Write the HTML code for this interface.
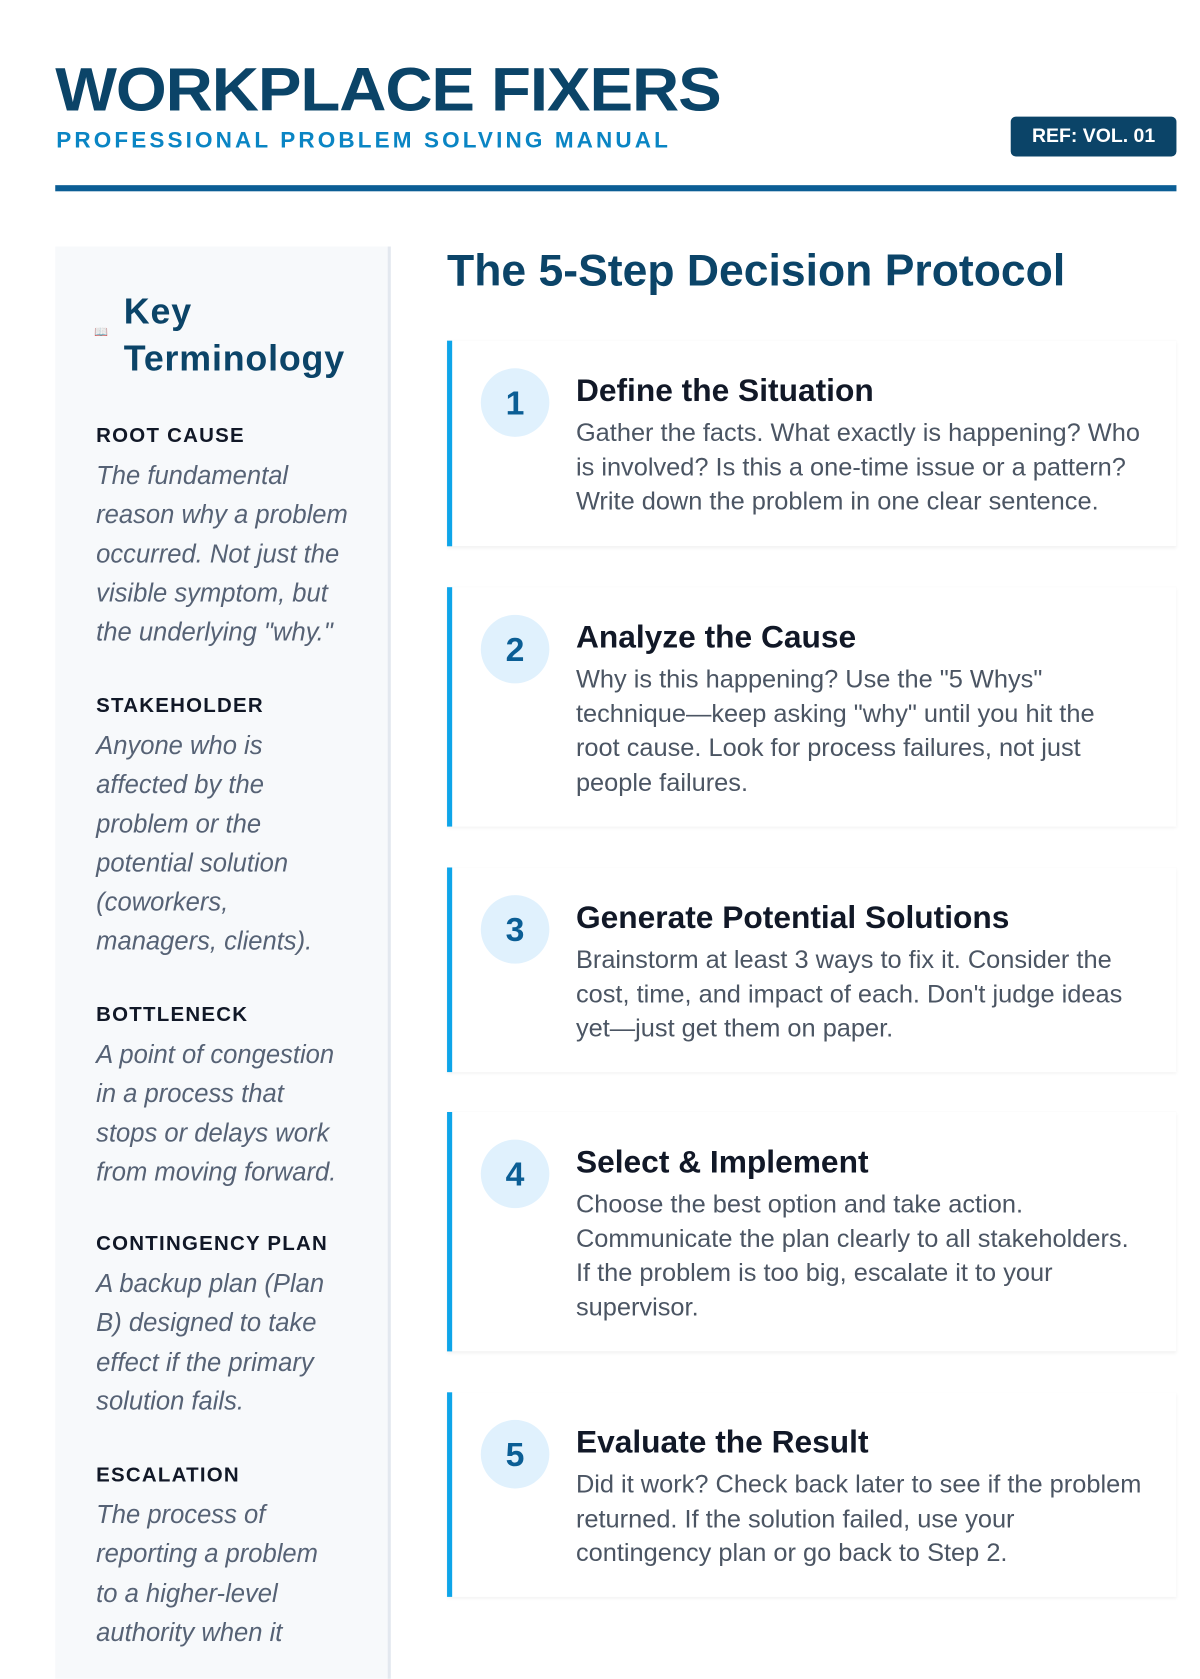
<!DOCTYPE html>
<html><head><meta charset="utf-8"><style>
*{margin:0;padding:0;box-sizing:border-box}
html,body{width:1200px;height:1600px;overflow:hidden;background:#fff;font-family:"Liberation Sans",sans-serif}
#w{position:absolute;left:0;top:0;width:1200px;height:1600px;transform:scale(1.023);transform-origin:0 0}
.a{position:absolute;white-space:nowrap}
.title{left:54px;top:56px;font-size:60px;font-weight:900;color:#0b4468;letter-spacing:-1px;line-height:64px;transform:scaleX(1.065);transform-origin:left}
.sub{left:55px;top:124px;font-size:22px;font-weight:bold;color:#0a85c4;letter-spacing:3.05px;line-height:26px}
.badge{left:988px;top:114px;width:162px;height:39px;background:#0b4468;border-radius:5px;color:#fff;font-weight:bold;font-size:19px;line-height:39px;text-align:center}
.rule{left:54px;top:181px;width:1096px;height:6px;background:#0b5e95}
.side{left:54px;top:241px;width:328px;height:1400px;background:#f7f9fb;border-right:3px solid #e3e8ef}
.kt{left:121px;top:282px;font-size:35px;font-weight:bold;color:#0b4468;line-height:46px;letter-spacing:0.8px}
.lab{left:94px;font-size:20px;font-weight:bold;color:#111827;letter-spacing:1.2px;line-height:39px}
.def{left:94px;font-size:25px;font-style:italic;color:#566275;line-height:38.3px}
.h2{left:437px;top:241px;font-size:43.5px;font-weight:bold;color:#0b4468;line-height:48px}
.card{left:437px;width:713px;background:#fff;border-left:5px solid #0ea5e9;box-shadow:0 2px 3px rgba(0,0,0,0.05),0 0 1px rgba(0,0,0,0.06)}
.circ{position:absolute;left:28px;top:27px;width:67px;height:67px;border-radius:50%;background:#e0f1fd;color:#0b5e95;font-weight:bold;font-size:33px;line-height:67px;text-align:center}
.ct{position:absolute;left:121px;top:33px;font-size:31px;font-weight:bold;color:#111827;line-height:32px;white-space:nowrap}
.cb{position:absolute;left:121px;top:74px;font-size:24.8px;color:#4b5563;line-height:33.5px;white-space:nowrap}
</style></head><body><div id="w">
<div class="a title">WORKPLACE FIXERS</div>
<div class="a sub">PROFESSIONAL PROBLEM SOLVING MANUAL</div>
<div class="a badge">REF: VOL. 01</div>
<div class="a rule"></div>

<div class="a side"></div>
<div class="a" style="left:92px;top:318px;font-size:11px;color:#0a85c4">&#128214;</div>
<div class="a kt">Key<br>Terminology</div>

<div class="a lab" style="top:407px">ROOT CAUSE</div>
<div class="a def" style="top:446px">The fundamental<br>reason why a problem<br>occurred. Not just the<br>visible symptom, but<br>the underlying "why."</div>

<div class="a lab" style="top:671px">STAKEHOLDER</div>
<div class="a def" style="top:710px">Anyone who is<br>affected by the<br>problem or the<br>potential solution<br>(coworkers,<br>managers, clients).</div>

<div class="a lab" style="top:973px">BOTTLENECK</div>
<div class="a def" style="top:1012px">A point of congestion<br>in a process that<br>stops or delays work<br>from moving forward.</div>

<div class="a lab" style="top:1197px">CONTINGENCY PLAN</div>
<div class="a def" style="top:1236px">A backup plan (Plan<br>B) designed to take<br>effect if the primary<br>solution fails.</div>

<div class="a lab" style="top:1423px">ESCALATION</div>
<div class="a def" style="top:1462px">The process of<br>reporting a problem<br>to a higher-level<br>authority when it</div>

<div class="a h2">The 5-Step Decision Protocol</div>

<div class="a card" style="top:333px;height:201px"><div class="circ">1</div><div class="ct">Define the Situation</div><div class="cb">Gather the facts. What exactly is happening? Who<br>is involved? Is this a one-time issue or a pattern?<br>Write down the problem in one clear sentence.</div></div>

<div class="a card" style="top:574px;height:234px"><div class="circ">2</div><div class="ct">Analyze the Cause</div><div class="cb">Why is this happening? Use the "5 Whys"<br>technique—keep asking "why" until you hit the<br>root cause. Look for process failures, not just<br>people failures.</div></div>

<div class="a card" style="top:848px;height:200px"><div class="circ">3</div><div class="ct">Generate Potential Solutions</div><div class="cb">Brainstorm at least 3 ways to fix it. Consider the<br>cost, time, and impact of each. Don't judge ideas<br>yet—just get them on paper.</div></div>

<div class="a card" style="top:1087px;height:234px"><div class="circ">4</div><div class="ct">Select &amp; Implement</div><div class="cb">Choose the best option and take action.<br>Communicate the plan clearly to all stakeholders.<br>If the problem is too big, escalate it to your<br>supervisor.</div></div>

<div class="a card" style="top:1361px;height:200px"><div class="circ">5</div><div class="ct">Evaluate the Result</div><div class="cb">Did it work? Check back later to see if the problem<br>returned. If the solution failed, use your<br>contingency plan or go back to Step 2.</div></div>
</div></body></html>
